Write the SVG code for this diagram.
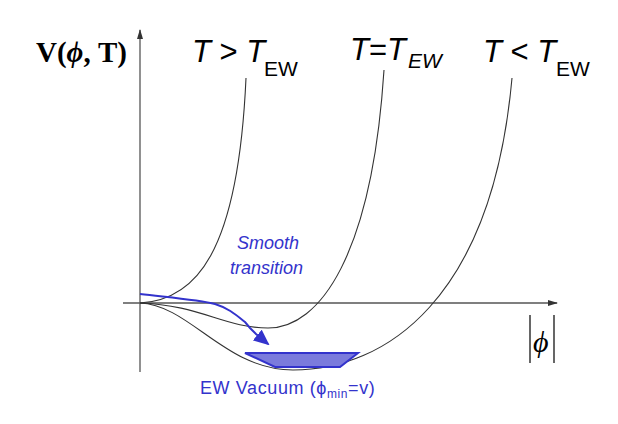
<svg xmlns="http://www.w3.org/2000/svg" width="618" height="424" viewBox="0 0 618 424">
<style>
.ax{stroke:#555;stroke-width:1.3;fill:none}
.cv{stroke:#333;stroke-width:1.1;fill:none}
.lb{font-family:"Liberation Sans",Arial,sans-serif;font-size:31px;fill:#000}
.sb{font-family:"Liberation Sans",Arial,sans-serif;font-size:21px;fill:#000}
.bl{font-family:"Liberation Sans",Arial,sans-serif;fill:#3333cc}
</style>
<defs>
<marker id="ah" markerWidth="10" markerHeight="8" refX="9" refY="4" orient="auto" markerUnits="userSpaceOnUse"><path d="M0,1 L10,4 L0,7 Z" fill="#333"/></marker>
<marker id="bh" markerWidth="16" markerHeight="14" refX="14" refY="7" orient="auto" markerUnits="userSpaceOnUse"><path d="M0,0 L16,7 L0,14 Z" fill="#3333cc"/></marker>
</defs>
<g id="axes">
<line class="ax" x1="140" y1="372" x2="140" y2="30" marker-end="url(#ah)"/>
<line class="ax" x1="123" y1="303" x2="557" y2="303" marker-end="url(#ah)"/>
</g>
<g id="connectors">
<path class="cv" d="M140,303 C195,300 238,255 246,78"/>
<path class="cv" d="M140,303 C200,305 225,328 268,328 C320,328 372,255 384,70"/>
<path class="cv" d="M140,303 C190,305 225,370 293,370 C385,370 492,300 512,78"/>
<path d="M140,294 C175,298 200,300 215,304 C228,308 235,314 245,322 L250,328 L256,334 L268,344" fill="none" stroke="#3333cc" stroke-width="2" marker-end="url(#bh)"/>
</g>
<g id="vacuum">
<path d="M245,353 L358,353 L340,367 L275,367 Z" fill="#7b7bdc" stroke="#3333cc" stroke-width="2"/>
</g>
<g id="labels">
<text x="36" y="62" font-family="Liberation Serif,serif" font-weight="bold" font-size="29">V(<tspan font-style="italic">ϕ</tspan>, T)</text>
<text class="lb" x="192" y="62"><tspan font-style="italic">T</tspan> &gt; <tspan font-style="italic">T</tspan></text>
<text class="sb" x="264" y="76">EW</text>
<text class="lb" x="350" y="60"><tspan font-style="italic">T</tspan>=<tspan font-style="italic">T</tspan></text>
<text class="sb" x="408" y="68" font-style="italic" font-size="23">EW</text>
<text class="lb" x="483" y="62"><tspan font-style="italic">T</tspan> &lt; <tspan font-style="italic">T</tspan></text>
<text class="sb" x="556" y="76">EW</text>
<text class="bl" x="237" y="249" font-size="18" font-style="italic">Smooth</text>
<text class="bl" x="230" y="274" font-size="18" font-style="italic">transition</text>
<text class="bl" x="200" y="394" font-size="18" letter-spacing="0.6">EW Vacuum  (ϕ<tspan font-size="12" dy="4">min</tspan><tspan dy="-4">=v)</tspan></text>
<line x1="530" y1="315" x2="530" y2="363" stroke="#000" stroke-width="1.2"/>
<line x1="554" y1="315" x2="554" y2="363" stroke="#000" stroke-width="1.2"/>
<text x="533" y="352" font-family="Liberation Serif,serif" font-style="italic" font-size="30">ϕ</text>
</g>
</svg>
